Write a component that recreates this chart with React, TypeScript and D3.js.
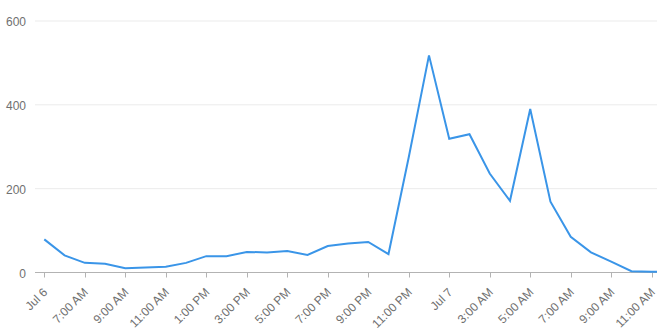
import React from "react";
import * as d3 from "d3";

const startHour = 5; // first data point: Jul 6, 5:00 AM
const values: number[] = [
  79, 41, 23, 21, 10, 12, 14, 23, 39, 39, 49, 48, 51, 42, 63, 69, 73, 44, 275,
  518, 319, 330, 236, 171, 390, 169, 85, 48, 26, 3, 2, 2,
];
const yTicks: number[] = [0, 200, 400, 600];
const xTickLabels: string[] = [
  "Jul 6", "7:00 AM", "9:00 AM", "11:00 AM", "1:00 PM", "3:00 PM", "5:00 PM",
  "7:00 PM", "9:00 PM", "11:00 PM", "Jul 7", "3:00 AM", "5:00 AM", "7:00 AM",
  "9:00 AM", "11:00 AM",
];

const W = 657;
const H = 335;
const plotLeft = 35;
const plotRight = 657;

const t0 = new Date(2020, 6, 6, startHour);
const hourDate = (i: number) => new Date(t0.getTime() + i * 3600 * 1000);
const data = values.map((v, i) => ({ t: hourDate(i), v }));
const tickDates = xTickLabels.map((_, i) => hourDate(i * 2));

export default function App() {
  const x = d3
    .scaleTime()
    .domain([t0, hourDate(30)])
    .range([44.3, 651.7]);
  const y = d3.scaleLinear().domain([0, 600]).range([272.5, 21]);
  const line = d3
    .line<{ t: Date; v: number }>()
    .x((d) => x(d.t))
    .y((d) => y(d.v));
  const font = "'Liberation Sans', Arial, sans-serif";
  return (
    <svg
      width={W}
      height={H}
      style={{ position: "absolute", left: 0, top: 0, background: "#fff" }}
    >
      <defs>
        <clipPath id="plot">
          <rect x={plotLeft} y={0} width={plotRight - plotLeft} height={H} />
        </clipPath>
      </defs>
      {yTicks.map((t) => (
        <g key={t}>
          <line
            x1={plotLeft}
            x2={plotRight}
            y1={y(t)}
            y2={y(t)}
            stroke={t === 0 ? "#b3b3b3" : "#ebebeb"}
            strokeWidth={1}
          />
          <text
            x={26}
            y={y(t) + 5}
            textAnchor="end"
            fontFamily={font}
            fontSize={12}
            fill="#707070"
          >
            {t}
          </text>
        </g>
      ))}
      {tickDates.map((d, i) => {
        const tx = Math.round(x(d)) + 0.5;
        return (
          <g key={i}>
            <line
              x1={tx}
              x2={tx}
              y1={y(0)}
              y2={y(0) + 5}
              stroke="#b3b3b3"
              strokeWidth={1}
            />
            <text
              transform={`translate(${x(d) + 4},${293}) rotate(-45)`}
              textAnchor="end"
              fontFamily={font}
              fontSize={12}
              fill="#707070"
            >
              {xTickLabels[i]}
            </text>
          </g>
        );
      })}
      <path
        d={line(data) || ""}
        fill="none"
        stroke="#3a95e8"
        strokeWidth={2}
        strokeLinejoin="miter"
        clipPath="url(#plot)"
      />
    </svg>
  );
}
